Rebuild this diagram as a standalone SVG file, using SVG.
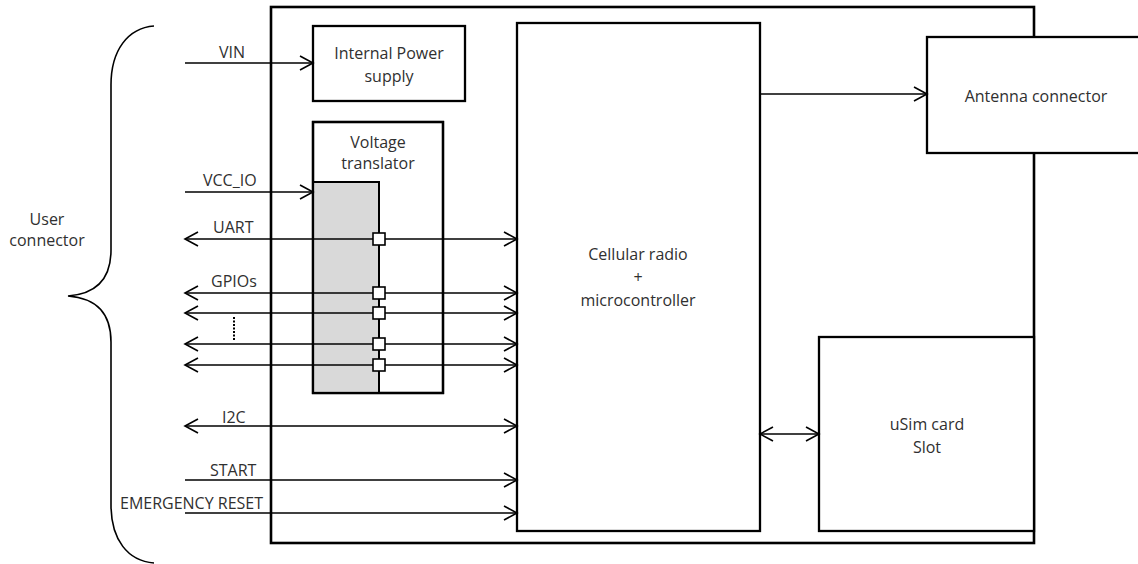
<svg xmlns="http://www.w3.org/2000/svg" width="1138" height="564" viewBox="0 0 1138 564">
<defs>
<style>
.box{fill:#fff;stroke:#000;stroke-width:2.3}
.ln{fill:none;stroke:#000;stroke-width:1.6}
.t{font-family:"Open Sans","Liberation Sans",Arial,sans-serif;font-size:16px;fill:#303030}
.c{text-anchor:middle}
.sq{fill:#fff;stroke:#000;stroke-width:1.6}
</style>
<marker id="ah" markerUnits="userSpaceOnUse" markerWidth="16" markerHeight="16" viewBox="-1 -1 16 16" refX="13" refY="7" orient="auto-start-reverse">
<path d="M0,0 L13,7 L0,14" fill="none" stroke="#000" stroke-width="1.6"/>
</marker>
</defs>
<rect width="1138" height="564" fill="#fff"/>

<g id="board">
<rect x="271" y="7" width="763" height="536" fill="#fff" stroke="#000" stroke-width="2.6"/>
</g>

<g id="power">
<rect class="box" x="313" y="26" width="152" height="75"/>
<text class="t c" x="389" y="59">Internal Power</text>
<text class="t c" x="389" y="82">supply</text>
</g>

<g id="translator">
<rect class="box" x="313" y="122" width="130" height="271"/>
<rect x="313" y="182" width="66" height="211" fill="#d9d9d9" stroke="none"/>
<path d="M313,182 H379 V393" fill="none" stroke="#000" stroke-width="2"/>
<rect x="313" y="122" width="130" height="271" fill="none" stroke="#000" stroke-width="2.3"/>
<text class="t c" x="378" y="148">Voltage</text>
<text class="t c" x="378" y="169">translator</text>
</g>

<g id="cellular">
<rect class="box" x="517" y="23" width="243" height="508"/>
<text class="t c" x="638" y="260">Cellular radio</text>
<text class="t c" x="638" y="283">+</text>
<text class="t c" x="638" y="306">microcontroller</text>
</g>

<g id="antenna">
<rect class="box" x="927" y="37" width="213" height="116"/>
<text class="t c" x="1036" y="102">Antenna connector</text>
</g>

<g id="usim">
<rect class="box" x="819" y="337" width="215" height="194"/>
<text class="t c" x="927" y="430">uSim card</text>
<text class="t c" x="927" y="453">Slot</text>
</g>

<g id="user-connector">
<path class="ln" d="M154,26 C128,28 111,50 111,85 V250 C111,280 95,294 68,296 C95,298 111,312 111,342 V505 C111,540 128,561 154,563"/>
<text class="t c" x="47" y="225">User</text>
<text class="t c" x="47" y="246">connector</text>
</g>

<g id="connectors">
<line class="ln" x1="185" y1="63" x2="313" y2="63" marker-end="url(#ah)"/>
<line class="ln" x1="185" y1="192" x2="313" y2="192" marker-end="url(#ah)"/>
<line class="ln" x1="185" y1="239" x2="517" y2="239" marker-start="url(#ah)" marker-end="url(#ah)"/>
<line class="ln" x1="185" y1="293" x2="517" y2="293" marker-start="url(#ah)" marker-end="url(#ah)"/>
<line class="ln" x1="185" y1="313" x2="517" y2="313" marker-start="url(#ah)" marker-end="url(#ah)"/>
<line class="ln" x1="185" y1="344" x2="517" y2="344" marker-start="url(#ah)" marker-end="url(#ah)"/>
<line class="ln" x1="185" y1="365" x2="517" y2="365" marker-start="url(#ah)" marker-end="url(#ah)"/>
<line class="ln" x1="185" y1="426" x2="517" y2="426" marker-start="url(#ah)" marker-end="url(#ah)"/>
<line class="ln" x1="185" y1="480" x2="517" y2="480" marker-end="url(#ah)"/>
<line class="ln" x1="185" y1="513" x2="517" y2="513" marker-end="url(#ah)"/>
<line class="ln" x1="760" y1="94" x2="927" y2="94" marker-end="url(#ah)"/>
<line class="ln" x1="760" y1="434" x2="819" y2="434" marker-start="url(#ah)" marker-end="url(#ah)"/>
<line x1="234" y1="317" x2="234" y2="341" stroke="#000" stroke-width="2" stroke-dasharray="2,1.5"/>
<rect class="sq" x="373" y="233" width="12" height="12"/>
<rect class="sq" x="373" y="287" width="12" height="12"/>
<rect class="sq" x="373" y="307" width="12" height="12"/>
<rect class="sq" x="373" y="338" width="12" height="12"/>
<rect class="sq" x="373" y="359" width="12" height="12"/>
<text class="t" x="219" y="58">VIN</text>
<text class="t" x="203" y="186">VCC_IO</text>
<text class="t" x="213" y="233">UART</text>
<text class="t" x="211" y="287">GPIOs</text>
<text class="t" x="222" y="423">I2C</text>
<text class="t" x="210" y="476">START</text>
<text class="t" x="120" y="509">EMERGENCY RESET</text>
</g>
</svg>
